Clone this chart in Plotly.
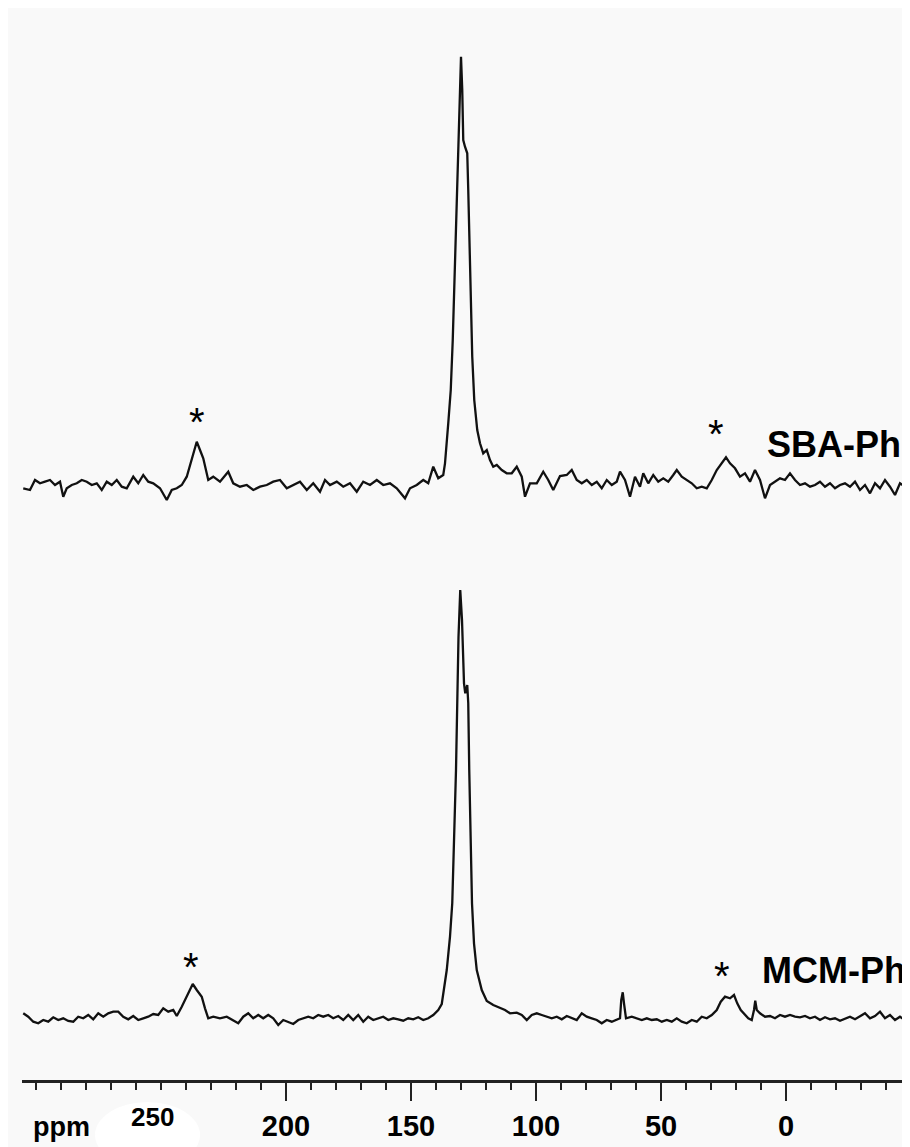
import plotly.graph_objects as go

# ---------------- data ----------------
# chemical shift (ppm) and intensity (arbitrary units, baseline = 0)
sba_ppm = [305.1, 302.4, 300.4, 298.4, 296.4, 294.4, 292.4, 290.4, 289.1, 287.7,
           285.7, 283.7, 281.7, 279.7, 277.7, 275.7, 273.7, 271.7, 269.7, 267.7,
           265.7, 263.7, 261.1, 259.1, 257.1, 255.1, 253.1, 250.4, 247.7, 245.7,
           243.7, 241.7, 239.7, 237.7, 235.7, 234.4, 233.1, 231.1, 229.1, 226.4,
           223.1, 221.1, 218.4, 215.7, 213.1, 210.4, 207.7, 205.1, 202.4, 199.7,
           197.1, 194.4, 191.7, 189.1, 186.4, 184.4, 182.4, 179.7, 177.1, 174.4,
           171.7, 169.1, 166.4, 163.7, 161.1, 158.4, 155.7, 152.4, 150.4, 147.7,
           145.1, 143.1, 141.1, 139.1, 137.1,
           136.4, 135.1, 134.1, 133.3, 132.5, 131.7, 131.1, 130.5, 130.0, 129.5,
           129.1, 128.4, 127.5, 127.1, 126.7, 126.1, 125.5, 124.7, 123.5, 122.4,
           121.1, 119.7, 118.4, 117.1, 115.7, 113.7, 111.7, 109.7, 107.7, 105.7,
           104.4, 102.4, 99.7, 97.1, 95.1, 93.1,
           90.4, 87.7, 85.7, 83.7, 81.7, 79.7, 77.7, 75.7, 73.7, 71.7,
           69.7, 67.7, 66.4, 64.4, 62.4, 60.4, 58.4, 57.1, 55.1, 53.1,
           51.1, 49.1, 47.1, 45.1, 43.7, 41.7, 39.7, 37.7, 35.7, 33.7,
           31.7, 29.7, 27.7, 25.7, 24.0, 22.4, 20.4, 18.4, 16.4, 14.4,
           12.4, 10.4, 8.4, 6.4, 4.4, 2.4, 0.4, -1.6, -3.6, -5.6,
           -7.6, -9.6, -11.6, -13.6, -15.6, -17.6, -19.6, -21.6, -23.6, -25.6,
           -27.6, -29.6, -31.6, -33.6, -35.6, -37.6, -39.6, -41.6, -43.6, -45.6,
           -47.6, -49.6]
sba_int = [-0.3, -2, 8, 4.7, 6.3, 8, 3, 6.3, -8.7, -0.3,
           3, 4.7, 8, 6.3, 3, 4.7, -2, 6.3, 3, 8,
           1.3, -0.3, 11.3, 4.7, 13, 6.3, 4.7, -0.3, -12, -2,
           -0.3, 3, 11.3, 29.7, 46.3, 38, 29.7, 8, 11.3, 6.3,
           16.3, 4.7, 1.3, 3, -2, 1.3, 3, 6.3, 8, -0.3,
           3, 6.3, -2, 4.7, -3.7, 8, 3, 6.3, 1.3, 4.7,
           -3.7, 6.3, 3, 8, 3, 4.7, -0.3, -10.3, -0.3, 3,
           8, 4.7, 21.3, 9.7, 13,
           24.7, 64.7, 98, 148, 214.7, 281.3, 331.3, 381.3, 431.3, 398,
           348, 341.3, 334.7, 298, 248, 181.3, 131.3, 88, 58, 44.7,
           34.7, 38, 28, 21.3, 23, 18, 14.7, 14.7, 21.3, 11.3,
           -8.7, 4.7, 4.7, 16.3, 8, -2,
           12, 13, 18, 8, 4.7, 8, 3, 6.3, -0.3, 8,
           3, 6.3, 16.3, 8, -8.7, 11.3, 1.3, 14.7, 4.7, 13,
           6.3, 9.7, 6.3, 13, 18, 11.3, 8, 4.7, -0.3, 1.3,
           -0.3, 8, 18, 24.7, 30.7, 24.7, 19.7, 11.3, 14.7, 6.3,
           18, 8, -10.3, 3, 6.3, 9.7, 8, 14.7, 8, 3,
           4.7, 1.3, 3, 6.3, 1.3, 4.7, -0.3, 3, 4.7, 1.3,
           6.3, -2, 3, -5.3, 4.7, -0.3, 8, 1.3, -7, 4.7,
           1.3, 3]

mcm_ppm = [305.1, 303.1, 301.1, 299.1, 297.1, 295.1, 293.1, 291.1, 289.1, 287.1,
           285.1, 283.1, 281.1, 279.1, 277.1, 275.1, 273.1, 271.1, 269.1, 267.1,
           265.1, 263.1, 261.1, 259.1, 257.1, 255.1, 253.1, 251.1, 249.1, 247.1,
           245.1, 243.7, 241.7, 239.7, 237.3, 235.7, 233.7, 232.4, 231.1, 229.1,
           226.4, 223.7, 221.1, 219.1, 217.1, 215.1, 213.1, 211.1, 209.1, 207.1,
           205.1, 203.1, 201.1, 199.1, 197.1, 195.1, 193.1, 191.1, 189.1, 187.1,
           185.1, 183.1, 181.1, 179.1, 177.1, 175.1, 173.1, 171.1, 169.1, 167.1,
           165.1, 163.1, 161.1, 159.1, 157.1, 155.1, 153.1, 151.1, 149.1, 147.1,
           145.1, 143.1, 141.1, 139.1,
           137.7, 135.7, 134.4, 133.5, 132.7, 132.0, 131.5, 131.0, 130.3, 129.6,
           128.8, 128.3, 127.5, 127.1, 126.7, 126.1, 125.6, 124.8, 123.7, 121.7,
           119.7,
           117.1, 114.4, 112.4, 110.4, 107.7, 105.7, 103.7, 101.7, 99.7, 97.7,
           95.7, 93.7, 91.7, 89.7, 87.7, 85.7, 83.7, 81.7, 79.7, 77.7,
           75.7, 73.7, 71.7, 69.7, 67.7, 66.4, 65.9, 65.3, 64.8, 64.0,
           61.7, 59.7, 57.7, 55.7, 53.7, 51.7, 49.7, 47.7, 45.7, 43.7,
           41.7, 39.7, 37.7, 35.7, 33.7, 31.7, 29.7, 27.7, 26.1, 24.4,
           22.4, 20.8, 19.5, 18.1, 16.4, 15.1, 13.7, 12.8, 12.3, 11.7,
           10.4, 8.4, 6.4, 4.4, 2.4, 0.4, -1.6, -3.6, -5.6, -7.6,
           -9.6, -11.6, -13.6, -15.6, -17.6, -19.6, -21.6, -23.6, -25.6, -27.6,
           -29.6, -31.6, -33.6, -35.6, -37.6, -39.6, -41.6, -43.6, -45.6, -47.6,
           -49.6]
mcm_int = [6.7, 3.3, -1.7, -3.3, 0, -1.7, 2.7, 0, 1.7, -1,
           -1.7, 3.3, 1.7, 5, 0.7, 6.7, 3.3, 6.7, 8.3, 8.3,
           3.3, 0.7, 4, 0, 1.7, 3.3, 6, 5, 11.7, 8.3,
           10, 4, 13.3, 23.3, 36, 30, 23.3, 11.7, 1.7, 3.3,
           1.7, 3.3, 0, -3.3, 3.3, 6.7, 1.7, 5, 1.7, 5,
           1.7, -5, 0, -1.7, -4, 0, 1.7, 3.3, 1.7, 5,
           3.3, 5, 1.7, 4, 0, 5, 0, 5, -1.7, 3.3,
           0, 1.7, 3.3, 0, 1.7, 0.7, -0.7, 1.7, 0.7, 2.7,
           0, 1.7, 5, 10,
           16, 50, 83.3, 116.7, 183.3, 250, 316.7, 383.3, 430, 400,
           336.7, 326.7, 335, 316.7, 250, 183.3, 116.7, 76.7, 50, 30,
           19,
           15, 11.7, 10, 6.7, 7.3, 5, 0, 5, 6.7, 5,
           3.3, 1.7, 3.3, 0.7, 4, 1.7, 0, 6.7, 3.3, 1.7,
           0, -3.3, 0, -1.7, 0, 1.7, 20, 27.7, 16.7, 1.7,
           3.3, 1.7, 0, 1.7, 0, 0.7, -1.7, 0, -1.7, 1.7,
           -1.7, -3.3, 0, -1.7, 3.3, 1.7, 5, 10, 18.3, 23.3,
           21.7, 25, 16.7, 10, 5, 1.7, 0, 10, 19.3, 10,
           6.7, 3.3, 4, 1.7, 5, 3.3, 5, 3.3, 2.7, 4,
           1.7, 3.3, 0, 2.7, 0.7, 1.7, -0.7, 1.7, 3.3, 0.7,
           3.3, 6.7, 1.7, 4, 8.3, 1.7, 5, 0, 3.3, 0,
           2.7]

tick_vals = [300, 250, 200, 150, 100, 50, 0]
tick_text = ["", "", "200", "150", "100", "50", "0"]
minor_vals = list(range(-40, 301, 10))

sample_labels = ["SBA-Ph", "MCM-Ph"]
sideband_ppm_sba = [235.6, 28.0]
sideband_ppm_mcm = [238.0, 25.6]

# ---------------- figure ----------------
# The page adds an 8 px body margin, so the figure itself is 902 x 1139.
W, H = 902, 1139
ML = 14            # axis line starts 14 px in from the figure's left edge
OFF = 8            # page offset

def fy(py):
    """paper fraction for a page-pixel y (plot area fills the figure height)"""
    return (H + OFF - py) / H

def px2ppm(px):
    """ppm value at a page-pixel x (0 ppm at x=786, 2.5 px per ppm)"""
    return (786 - px) / 2.5

BG = "#f9f9f9"
LINE = "#111111"
FONT = "Liberation Sans, Arial, sans-serif"

fig = go.Figure()
fig.add_trace(go.Scatter(x=sba_ppm, y=sba_int, mode="lines", xaxis="x", yaxis="y",
                         line=dict(color=LINE, width=2.3), hoverinfo="skip", showlegend=False))
fig.add_trace(go.Scatter(x=mcm_ppm, y=mcm_int, mode="lines", xaxis="x", yaxis="y2",
                         line=dict(color=LINE, width=2.3), hoverinfo="skip", showlegend=False))

fig.update_layout(
    width=W, height=H,
    margin=dict(l=ML, r=0, t=0, b=0, pad=0),
    paper_bgcolor=BG, plot_bgcolor=BG,
    showlegend=False,
    xaxis=dict(range=[px2ppm(OFF + ML), px2ppm(OFF + W)], anchor="free", position=fy(1081),
               side="bottom", showgrid=False, zeroline=False,
               showline=True, linecolor="#222222", linewidth=2.5,
               tickmode="array", tickvals=tick_vals, ticktext=tick_text,
               ticks="outside", ticklen=18, tickwidth=2, tickcolor="#222222",
               minor=dict(tickvals=minor_vals, ticks="outside", ticklen=7,
                          tickwidth=1.6, tickcolor="#222222"),
               tickfont=dict(family=FONT, size=29, color="black", weight=700),
               ticklabelstandoff=0),
    yaxis=dict(domain=[fy(510), fy(30)], range=[-22, 458], visible=False, anchor="x",
               fixedrange=True),
    yaxis2=dict(domain=[fy(1040), fy(560)], range=[-20, 460], visible=False, anchor="x",
                fixedrange=True),
)

# white patch behind the "250" label
fig.add_shape(type="circle", xref="x", yref="paper",
              x0=px2ppm(95), x1=px2ppm(200), y0=fy(1168), y1=fy(1102),
              fillcolor="white", line=dict(width=0), layer="below")

# asterisks over the spinning sidebands
for p, yy in zip(sideband_ppm_sba, [72, 60]):
    fig.add_annotation(x=p, y=yy, xref="x", yref="y", text="*", showarrow=False,
                       font=dict(family=FONT, size=40, color="black"), yshift=-6)
for p, yy in zip(sideband_ppm_mcm, [59, 50]):
    fig.add_annotation(x=p, y=yy, xref="x", yref="y2", text="*", showarrow=False,
                       font=dict(family=FONT, size=40, color="black"), yshift=-6)

# sample labels
fig.add_annotation(x=px2ppm(765), y=43, xref="x", yref="y", text=sample_labels[0],
                   showarrow=False, xanchor="left", yanchor="middle",
                   font=dict(family=FONT, size=36, color="black", weight=700))
fig.add_annotation(x=px2ppm(760), y=50, xref="x", yref="y2", text=sample_labels[1],
                   showarrow=False, xanchor="left", yanchor="middle",
                   font=dict(family=FONT, size=36, color="black", weight=700))

# axis unit and the displaced "250" label
fig.add_annotation(x=px2ppm(61), y=fy(1127), xref="x", yref="paper", text="ppm",
                   showarrow=False, xanchor="center", yanchor="middle",
                   font=dict(family=FONT, size=27, color="black", weight=700))
fig.add_annotation(x=px2ppm(152), y=fy(1117), xref="x", yref="paper", text="250",
                   showarrow=False, xanchor="center", yanchor="middle",
                   font=dict(family=FONT, size=26, color="black", weight=700))

fig.write_html("out.html")
